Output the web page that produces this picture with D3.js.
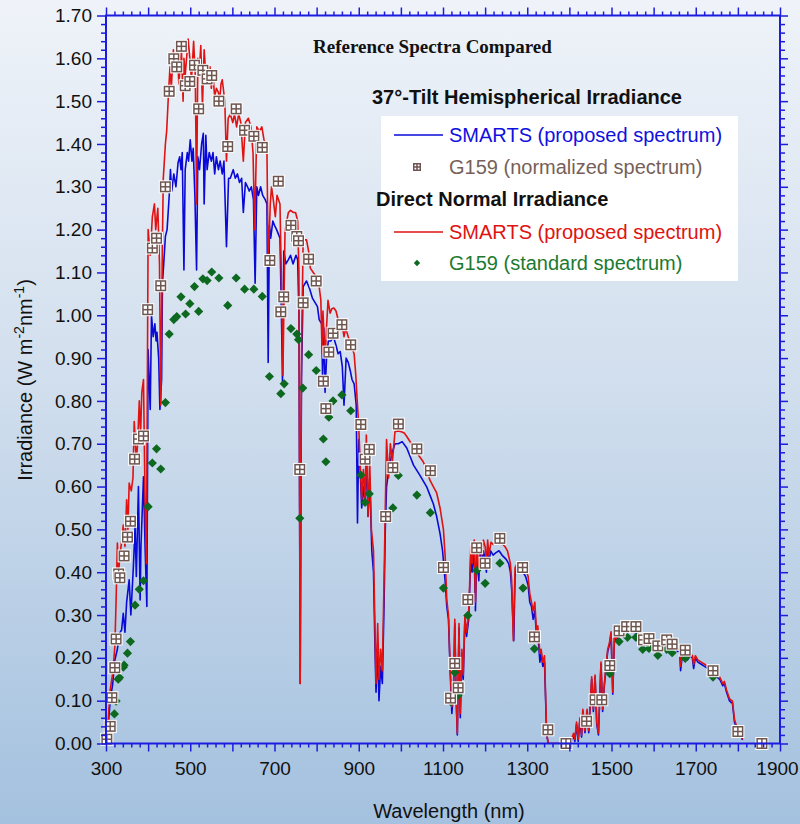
<!DOCTYPE html>
<html>
<head>
<meta charset="utf-8">
<script src="https://cdn.jsdelivr.net/npm/d3@7"></script>
<style>
  html, body { margin: 0; padding: 0; }
  body { width: 800px; height: 824px; overflow: hidden; }
  text { font-family: "Liberation Sans", Arial, sans-serif; }
</style>
</head>
<body>
<div id="chart"></div>
<script>
// tick values
const xMajor = [300, 400, 500, 600, 700, 800, 900, 1000, 1100, 1200, 1300, 1400, 1500, 1600, 1700, 1800, 1900];
const xLabels = [300, 500, 700, 900, 1100, 1300, 1500, 1700, 1900];
const yLabels = [0, 0.1, 0.2, 0.3, 0.4, 0.5, 0.6, 0.7, 0.8, 0.9, 1.0, 1.1, 1.2, 1.3, 1.4, 1.5, 1.6, 1.7];

// SMARTS 37-deg tilt hemispherical (blue)
const smartsTilt = [[300,0],[305,0.04],[310,0.10],[316,0.14],[321,0.195],[327,0.22],[332,0.257],[337,0.265],[341,0.304],[345,0.26],[349,0.33],[355,0.382],[359,0.30],[365,0.413],[369,0.506],[372,0.39],[377,0.60],[381,0.335],[383,0.46],[389,0.623],[393,0.45],[397,0.32],[400,0.92],[405,0.78],[408,1.00],[412,0.95],[416,0.98],[419,0.94],[421,0.96],[425,0.90],[428,0.78],[432,0.85],[434,1.075],[437,1.12],[441,1.184],[445,1.20],[450,1.278],[453,1.34],[456,1.29],[461,1.33],[466,1.30],[471,1.356],[475,1.37],[478,1.34],[481,1.38],[485,1.106],[488,1.34],[493,1.38],[496,1.36],[500,1.41],[504,1.36],[507,1.39],[511,1.28],[515,1.106],[518,1.37],[522,1.34],[527,1.40],[531,1.425],[533,1.26],[537,1.42],[540,1.34],[545,1.38],[550,1.36],[554,1.38],[558,1.33],[562,1.37],[567,1.34],[571,1.36],[576,1.33],[580,1.36],[586,1.16],[591,1.32],[595,1.32],[602,1.34],[607,1.32],[612,1.33],[617,1.31],[622,1.32],[626,1.24],[631,1.31],[636,1.30],[640,1.29],[645,1.30],[650,1.27],[654,1.075],[658,1.30],[662,1.28],[667,1.30],[672,1.28],[678,1.27],[682,1.26],[685,0.89],[688,1.21],[691,1.18],[696,1.22],[700,1.21],[705,1.20],[709,1.19],[713,1.18],[717,0.97],[719,0.84],[722,1.15],[727,1.12],[733,1.13],[738,1.14],[744,1.12],[751,1.14],[755,1.13],[758,1.00],[761,0.14],[764,0.85],[768,1.067],[776,1.08],[784,1.06],[790,1.04],[796,1.03],[802,1.02],[806,0.99],[812,0.98],[814,0.86],[817,0.97],[820,0.82],[824,0.91],[828,0.94],[834,0.94],[840,0.95],[846,0.93],[851,0.91],[856,0.915],[861,0.88],[865,0.79],[870,0.90],[875,0.89],[880,0.87],[884,0.85],[889,0.84],[894,0.79],[897,0.515],[900,0.71],[903,0.65],[907,0.55],[911,0.60],[915,0.56],[918,0.67],[922,0.53],[926,0.62],[931,0.45],[935,0.40],[938,0.25],[941,0.12],[945,0.22],[948,0.10],[952,0.18],[956,0.14],[960,0.32],[963,0.50],[966,0.60],[970,0.63],[978,0.675],[986,0.70],[994,0.70],[1003,0.705],[1014,0.69],[1022,0.67],[1030,0.65],[1046,0.625],[1061,0.60],[1069,0.58],[1077,0.56],[1085,0.53],[1093,0.49],[1099,0.45],[1105,0.38],[1109,0.32],[1113,0.29],[1117,0.17],[1121,0.07],[1125,0.12],[1128,0.28],[1131,0.11],[1134,0.02],[1138,0.27],[1141,0.06],[1145,0.21],[1148,0.15],[1152,0.29],[1156,0.25],[1161,0.29],[1166,0.44],[1169,0.40],[1174,0.45],[1177,0.31],[1180,0.44],[1185,0.38],[1188,0.45],[1192,0.42],[1196,0.45],[1200,0.43],[1203,0.40],[1206,0.45],[1209,0.42],[1213,0.45],[1219,0.44],[1225,0.445],[1233,0.45],[1240,0.44],[1250,0.43],[1256,0.42],[1260,0.40],[1263,0.36],[1268,0.24],[1271,0.39],[1274,0.41],[1283,0.40],[1290,0.40],[1296,0.39],[1302,0.37],[1306,0.33],[1310,0.32],[1314,0.29],[1318,0.31],[1322,0.25],[1325,0.26],[1330,0.19],[1333,0.21],[1337,0.18],[1341,0.19],[1346,0.02],[1350,0],[1400,0],[1405,0.005],[1410,0.02],[1413,0.005],[1417,0.045],[1421,0.005],[1425,0.055],[1429,0.015],[1432,0.075],[1437,0.025],[1442,0.075],[1446,0.025],[1453,0.15],[1457,0.075],[1461,0.155],[1465,0.045],[1469,0.02],[1475,0.185],[1479,0.075],[1483,0.135],[1487,0.175],[1491,0.215],[1495,0.23],[1499,0.255],[1503,0.115],[1507,0.245],[1512,0.24],[1518,0.257],[1522,0.268],[1528,0.26],[1536,0.26],[1544,0.263],[1552,0.261],[1560,0.257],[1566,0.245],[1572,0.24],[1574,0.215],[1580,0.24],[1588,0.235],[1596,0.231],[1604,0.227],[1609,0.231],[1615,0.235],[1622,0.24],[1627,0.243],[1635,0.239],[1643,0.227],[1651,0.223],[1657,0.215],[1662,0.215],[1664,0.17],[1668,0.205],[1674,0.195],[1680,0.195],[1686,0.205],[1692,0.2],[1695,0.175],[1699,0.2],[1705,0.19],[1713,0.185],[1721,0.18],[1729,0.175],[1741,0.165],[1749,0.156],[1757,0.15],[1764,0.135],[1768,0.14],[1773,0.12],[1780,0.1],[1785,0.095],[1787,0.095],[1792,0.05],[1797,0.036],[1805,0.03],[1811,0.008]];

// SMARTS direct normal (red)
const smartsDni = [[300,0],[305,0.05],[310,0.125],[316,0.165],[321,0.226],[324,0.335],[327,0.468],[330,0.40],[333,0.44],[337,0.47],[341,0.51],[345,0.46],[349,0.569],[352,0.50],[355,0.608],[360,0.59],[364,0.62],[367,0.752],[372,0.66],[375,0.70],[379,0.80],[382,0.72],[385,0.82],[389,0.85],[393,0.55],[396,0.42],[400,1.20],[405,1.14],[410,1.23],[415,1.26],[418,1.20],[423,1.25],[427,1.12],[430,0.79],[434,1.18],[436,1.32],[441,1.40],[444,1.43],[449,1.53],[452,1.58],[455,1.53],[460,1.62],[462,1.57],[469,1.62],[473,1.54],[479,1.62],[483,1.50],[485,1.60],[488,1.56],[495,1.645],[499,1.60],[503,1.55],[508,1.64],[512,1.56],[515,1.26],[518,1.60],[521,1.56],[525,1.63],[529,1.49],[533,1.62],[537,1.56],[541,1.55],[547,1.58],[550,1.53],[554,1.56],[558,1.51],[562,1.53],[567,1.52],[569,1.49],[573,1.54],[576,1.55],[582,1.50],[586,1.36],[590,1.46],[595,1.47],[601,1.45],[605,1.47],[610,1.44],[615,1.47],[620,1.45],[626,1.36],[631,1.45],[638,1.46],[644,1.44],[649,1.38],[653,1.20],[658,1.44],[664,1.43],[670,1.44],[675,1.41],[682,1.39],[685,1.12],[690,1.26],[693,1.30],[697,1.27],[702,1.23],[706,1.28],[713,1.26],[717,1.05],[720,0.86],[725,1.20],[733,1.24],[738,1.245],[745,1.24],[750,1.24],[755,1.22],[758,1.10],[761,0.14],[764,0.90],[768,1.176],[776,1.176],[781,1.15],[785,1.11],[792,1.10],[799,1.09],[806,1.067],[810,1.036],[813,0.91],[815,1.01],[820,0.90],[824,0.98],[827,1.035],[832,1.005],[836,1.015],[841,1.017],[846,1.01],[851,0.99],[855,0.97],[861,0.975],[865,0.95],[869,0.97],[875,0.95],[879,0.94],[885,0.92],[889,0.91],[893,0.86],[897,0.79],[900,0.74],[903,0.66],[907,0.57],[911,0.64],[915,0.57],[918,0.72],[922,0.53],[926,0.66],[930,0.50],[935,0.45],[938,0.30],[941,0.14],[945,0.28],[948,0.15],[952,0.22],[956,0.17],[960,0.38],[963,0.55],[966,0.71],[971,0.62],[975,0.70],[980,0.66],[986,0.728],[994,0.73],[1001,0.728],[1008,0.725],[1014,0.717],[1025,0.70],[1037,0.68],[1053,0.658],[1061,0.64],[1069,0.615],[1077,0.60],[1085,0.585],[1093,0.55],[1101,0.50],[1105,0.44],[1109,0.335],[1113,0.30],[1117,0.18],[1121,0.086],[1125,0.13],[1128,0.29],[1131,0.12],[1134,0.024],[1138,0.28],[1141,0.07],[1145,0.22],[1148,0.16],[1152,0.30],[1156,0.26],[1161,0.30],[1166,0.46],[1169,0.42],[1174,0.475],[1177,0.33],[1180,0.46],[1185,0.40],[1188,0.47],[1192,0.44],[1196,0.475],[1200,0.46],[1203,0.42],[1206,0.475],[1209,0.44],[1214,0.47],[1219,0.465],[1225,0.47],[1231,0.475],[1237,0.47],[1247,0.46],[1253,0.45],[1260,0.42],[1263,0.38],[1267,0.24],[1271,0.41],[1276,0.42],[1283,0.42],[1290,0.42],[1296,0.41],[1302,0.39],[1306,0.35],[1310,0.33],[1314,0.31],[1318,0.33],[1322,0.26],[1325,0.275],[1330,0.21],[1333,0.22],[1337,0.19],[1341,0.205],[1346,0.024],[1350,0],[1400,0],[1405,0.01],[1410,0.024],[1413,0.01],[1417,0.05],[1421,0.01],[1425,0.06],[1429,0.02],[1432,0.08],[1437,0.03],[1442,0.08],[1446,0.03],[1453,0.156],[1457,0.08],[1461,0.16],[1465,0.05],[1469,0.024],[1475,0.19],[1479,0.08],[1483,0.14],[1487,0.18],[1491,0.22],[1495,0.235],[1499,0.261],[1503,0.12],[1507,0.25],[1512,0.245],[1518,0.262],[1522,0.273],[1528,0.265],[1536,0.265],[1544,0.268],[1552,0.266],[1560,0.262],[1566,0.25],[1572,0.245],[1574,0.225],[1580,0.245],[1588,0.24],[1596,0.236],[1604,0.232],[1609,0.236],[1615,0.24],[1622,0.245],[1627,0.248],[1635,0.244],[1643,0.232],[1651,0.228],[1657,0.22],[1662,0.22],[1664,0.18],[1668,0.21],[1674,0.20],[1680,0.20],[1686,0.21],[1692,0.205],[1695,0.185],[1699,0.205],[1705,0.195],[1713,0.19],[1721,0.185],[1729,0.18],[1741,0.17],[1749,0.16],[1757,0.155],[1764,0.14],[1768,0.145],[1773,0.125],[1780,0.105],[1785,0.10],[1787,0.10],[1792,0.056],[1797,0.04],[1805,0.035],[1811,0.01]];

// G159 normalized (squares)
const g159Norm = [[302,0.01],[310,0.04],[314,0.107],[321,0.177],[324,0.244],[330,0.396],[333,0.387],[343,0.438],[351,0.482],[358,0.519],[368,0.664],[377,0.711],[389,0.718],[399,1.013],[410,1.157],[420,1.180],[430,1.069],[441,1.300],[450,1.523],[461,1.599],[468,1.580],[479,1.628],[488,1.536],[499,1.546],[510,1.584],[520,1.482],[530,1.572],[540,1.552],[551,1.560],[568,1.500],[589,1.394],[609,1.482],[629,1.432],[651,1.418],[671,1.392],[689,1.128],[709,1.313],[715,1.008],[722,1.043],[739,1.210],[753,1.184],[757,1.174],[760,0.640],[768,1.029],[781,1.131],[799,1.080],[816,0.846],[822,0.782],[829,0.914],[839,0.958],[860,0.978],[881,0.931],[905,0.745],[915,0.664],[925,0.687],[964,0.530],[981,0.644],[994,0.746],[1038,0.688],[1070,0.637],[1101,0.411],[1118,0.106],[1128,0.187],[1136,0.130],[1159,0.336],[1180,0.457],[1200,0.421],[1235,0.479],[1289,0.411],[1317,0.249],[1349,0.032],[1392,0.0],[1441,0.052],[1461,0.102],[1477,0.102],[1496,0.182],[1518,0.263],[1536,0.273],[1558,0.273],[1576,0.242],[1589,0.245],[1610,0.228],[1631,0.242],[1644,0.232],[1675,0.218],[1741,0.170],[1800,0.028],[1857,0.0]];

// G159 standard direct (diamonds)
const g159Std = [[320,0.069],[324,0.099],[329,0.150],[332,0.154],[341,0.178],[343,0.183],[351,0.211],[358,0.238],[369,0.323],[379,0.360],[389,0.380],[400,0.553],[410,0.655],[420,0.688],[430,0.641],[441,0.796],[450,0.956],[461,0.990],[468,0.997],[478,1.043],[489,1.003],[499,1.027],[510,1.067],[520,1.009],[530,1.085],[540,1.081],[551,1.101],[568,1.087],[589,1.023],[609,1.087],[629,1.061],[651,1.061],[671,1.044],[688,0.857],[715,0.817],[723,0.840],[739,0.969],[753,0.956],[757,0.943],[760,0.526],[767,0.830],[781,0.908],[799,0.871],[816,0.711],[822,0.658],[829,0.762],[839,0.800],[860,0.814],[881,0.777],[905,0.627],[915,0.563],[925,0.583],[981,0.550],[994,0.626],[1038,0.580],[1070,0.539],[1101,0.363],[1118,0.098],[1128,0.166],[1136,0.113],[1159,0.299],[1180,0.404],[1200,0.374],[1235,0.421],[1290,0.363],[1317,0.221],[1496,0.163],[1518,0.238],[1538,0.248],[1558,0.248],[1574,0.220],[1589,0.222],[1610,0.206],[1631,0.220],[1644,0.212],[1675,0.199],[1741,0.155]];

const W = 800, H = 824;
const plot = {left: 106, right: 780, top: 15.5, bottom: 743.5};
const axisColor = "#1c1ce0";

const svg = d3.select("#chart").append("svg")
    .attr("width", W)
    .attr("height", H);

// background gradient
const grad = svg.append("defs").append("linearGradient")
    .attr("id", "bg").attr("x1", 0).attr("y1", 0).attr("x2", 0).attr("y2", 1);
grad.append("stop").attr("offset", "0%").attr("stop-color", "#eff3f9");
grad.append("stop").attr("offset", "45%").attr("stop-color", "#d2dfee");
grad.append("stop").attr("offset", "100%").attr("stop-color", "#a4c1df");
svg.append("rect").attr("width", W).attr("height", H).attr("fill", "url(#bg)");

svg.select("defs").append("clipPath").attr("id", "clip")
    .append("rect")
    .attr("x", plot.left).attr("y", plot.top - 2)
    .attr("width", plot.right - plot.left).attr("height", plot.bottom - plot.top + 2);

const x = d3.scaleLinear().domain([300, 1900]).range([plot.left, plot.right]);
const y = d3.scaleLinear().domain([0, 1.7]).range([plot.bottom, plot.top]);

// Legend box (behind data)
svg.append("rect")
    .attr("x", 381).attr("y", 116)
    .attr("width", 357).attr("height", 165)
    .attr("fill", "#ffffff");

// Lines
const line = d3.line().x(d => x(d[0])).y(d => y(d[1]));
const lines = svg.append("g").attr("clip-path", "url(#clip)");
lines.append("path").datum(smartsTilt)
    .attr("d", line)
    .attr("fill", "none")
    .attr("stroke", "#0a0ad8")
    .attr("stroke-width", 1.6)
    .attr("stroke-linejoin", "round");
lines.append("path").datum(smartsDni)
    .attr("d", line)
    .attr("fill", "none")
    .attr("stroke", "#e01212")
    .attr("stroke-width", 1.6)
    .attr("stroke-linejoin", "round");

// markers
function diamond(g, cx, cy, s) {
    g.append("rect")
        .attr("x", -s / 2).attr("y", -s / 2)
        .attr("width", s).attr("height", s)
        .attr("fill", "#0d6820")
        .attr("transform", `translate(${cx},${cy}) rotate(45)`);
}
function boxMarker(g, cx, cy, s) {
    const h = s / 2;
    g.append("rect").attr("x", cx - h - 1).attr("y", cy - h - 1)
        .attr("width", s + 2).attr("height", s + 2).attr("fill", "#ffffff");
    g.append("rect").attr("x", cx - h).attr("y", cy - h)
        .attr("width", s).attr("height", s).attr("fill", "#6e5650");
    const c = (s - 4.5) / 2;
    [[-h + 1.5, -h + 1.5], [0.75, -h + 1.5], [-h + 1.5, 0.75], [0.75, 0.75]].forEach(o => {
        g.append("rect").attr("x", cx + o[0]).attr("y", cy + o[1])
            .attr("width", c).attr("height", c).attr("fill", "#ffffff");
    });
}

const diamonds = svg.append("g");
g159Std.forEach(d => diamond(diamonds, x(d[0]), y(d[1]), 6.5));
const squares = svg.append("g");
g159Norm.forEach(d => boxMarker(squares, x(d[0]), y(d[1]), 11));

// Axes
const xMinor = d3.range(300, 1901, 20).filter(v => v % 100 !== 0);
const yMinor = d3.range(0, 171, 2).filter(v => v % 10 !== 0).map(v => v / 100);

function styleAxis(g) {
    g.select(".domain").remove();
    g.selectAll("line").attr("stroke", axisColor).attr("stroke-width", 1.5);
    g.selectAll("text")
        .attr("fill", "#111")
        .style("font-family", "'Liberation Sans', Arial, sans-serif")
        .style("font-size", "19px");
}

// bottom
svg.append("g").attr("transform", `translate(0,${plot.bottom})`)
    .call(d3.axisBottom(x).tickValues(xMinor).tickSize(4).tickFormat(""))
    .call(styleAxis);
const xAxisG = svg.append("g").attr("transform", `translate(0,${plot.bottom})`)
    .call(d3.axisBottom(x).tickValues(xMajor).tickSize(8).tickPadding(10)
        .tickFormat(d => xLabels.includes(d) ? d : ""))
    .call(styleAxis);
// keep the last label inside the page
xAxisG.selectAll(".tick text").filter(d => d === 1900).attr("dx", -3);
// top
svg.append("g").attr("transform", `translate(0,${plot.top})`)
    .call(d3.axisTop(x).tickValues(xMinor).tickSize(4).tickFormat(""))
    .call(styleAxis);
svg.append("g").attr("transform", `translate(0,${plot.top})`)
    .call(d3.axisTop(x).tickValues(xMajor).tickSize(8).tickFormat(""))
    .call(styleAxis);
// left
svg.append("g").attr("transform", `translate(${plot.left},0)`)
    .call(d3.axisLeft(y).tickValues(yMinor).tickSize(5).tickFormat(""))
    .call(styleAxis);
svg.append("g").attr("transform", `translate(${plot.left},0)`)
    .call(d3.axisLeft(y).tickValues(yLabels).tickSize(9).tickPadding(5).tickFormat(d3.format(".2f")))
    .call(styleAxis);
// right
svg.append("g").attr("transform", `translate(${plot.right},0)`)
    .call(d3.axisRight(y).tickValues(yMinor).tickSize(5).tickFormat(""))
    .call(styleAxis);
svg.append("g").attr("transform", `translate(${plot.right},0)`)
    .call(d3.axisRight(y).tickValues(yLabels).tickSize(8).tickFormat(""))
    .call(styleAxis);

// frame
svg.append("rect")
    .attr("x", plot.left).attr("y", plot.top)
    .attr("width", plot.right - plot.left).attr("height", plot.bottom - plot.top)
    .attr("fill", "none")
    .attr("stroke", axisColor)
    .attr("stroke-width", 2);

// Axis titles
svg.append("text")
    .attr("x", 449).attr("y", 818)
    .attr("text-anchor", "middle")
    .attr("font-size", 20)
    .attr("fill", "#111")
    .text("Wavelength (nm)");

const yt = svg.append("text")
    .attr("transform", "translate(32,380) rotate(-90)")
    .attr("text-anchor", "middle")
    .attr("font-size", 20)
    .attr("fill", "#111");
yt.append("tspan").text("Irradiance (W m");
yt.append("tspan").attr("font-size", 14).attr("dy", -8).text("-2");
yt.append("tspan").attr("dy", 8).text("nm");
yt.append("tspan").attr("font-size", 14).attr("dy", -8).text("-1");
yt.append("tspan").attr("dy", 8).text(")");

// Title
svg.append("text")
    .attr("x", 313).attr("y", 53)
    .style("font-family", "'Liberation Serif', 'Times New Roman', serif")
    .attr("font-weight", "bold")
    .attr("font-size", 19)
    .attr("fill", "#111")
    .text("Reference Spectra Compared");

// Legend
svg.append("text")
    .attr("x", 372).attr("y", 104)
    .attr("font-weight", "bold").attr("font-size", 20).attr("fill", "#111")
    .text("37°-Tilt Hemispherical Irradiance");
svg.append("text")
    .attr("x", 376).attr("y", 206)
    .attr("font-weight", "bold").attr("font-size", 20).attr("fill", "#111")
    .text("Direct Normal Irradiance");

const legItems = [
    {type: "line", color: "#0a0ad8", text: "SMARTS (proposed spectrum)", tc: "#1010e0", y: 135},
    {type: "box", text: "G159 (normalized spectrum)", tc: "#775f59", y: 167},
    {type: "line", color: "#e01212", text: "SMARTS (proposed spectrum)", tc: "#e01212", y: 232},
    {type: "diamond", text: "G159 (standard spectrum)", tc: "#1b7a30", y: 263}
];
const leg = svg.append("g");
legItems.forEach(it => {
    if (it.type === "line") {
        leg.append("line").attr("x1", 394).attr("x2", 443)
            .attr("y1", it.y).attr("y2", it.y)
            .attr("stroke", it.color).attr("stroke-width", 1.5);
    } else if (it.type === "box") {
        boxMarker(leg, 417, it.y, 8);
    } else {
        diamond(leg, 417, it.y, 4.5);
    }
    leg.append("text")
        .attr("x", 449).attr("y", it.y + 7)
        .attr("font-size", 20)
        .attr("fill", it.tc)
        .text(it.text);
});
</script>
</body>
</html>
